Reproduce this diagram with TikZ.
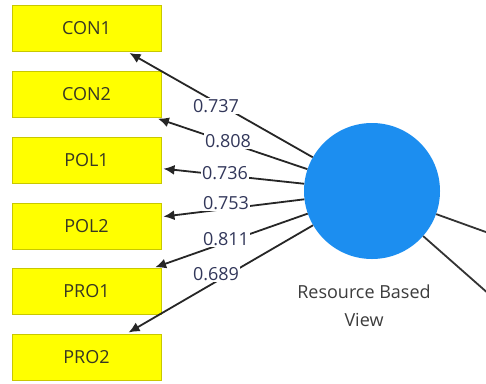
\documentclass[tikz,border=0pt]{standalone}
\usepackage{fontspec}
\setmainfont{Open Sans}
\usetikzlibrary{arrows.meta}
\definecolor{boxfill}{RGB}{255,255,0}
\definecolor{boxline}{RGB}{200,200,0}
\definecolor{boxtext}{RGB}{55,55,35}
\definecolor{numtext}{RGB}{50,55,90}
\definecolor{lvfill}{RGB}{28,142,240}
\definecolor{lvtext}{RGB}{60,60,60}
\tikzset{
  indbox/.style={draw=boxline, line width=1pt, fill=boxfill, minimum width=149pt, minimum height=46pt, inner sep=0pt, text=boxtext, font=\fontsize{18}{20}\selectfont},
  lv/.style={circle, fill=lvfill, minimum size=136pt, inner sep=0pt},
  load/.style={-{Latex[length=11pt,width=10pt]}, line width=1.8pt, draw=black!85, shorten >=2pt},
  path/.style={line width=1.8pt, draw=black!80},
  num/.style={fill=white, inner sep=1.5pt, text=numtext, font=\fontsize{18}{20}\selectfont},
}
\begin{document}
\begin{tikzpicture}[x=1pt,y=-1pt]
\fill[white] (0,0) rectangle (486,383);
\useasboundingbox (0,0) rectangle (486,383);
\clip (0,0) rectangle (486,383);
\node[indbox] (con1) at (86.5,28.5) {CON1};
\node[indbox] (con2) at (86.5,94.5) {CON2};
\node[indbox] (pol1) at (86.5,160.5) {POL1};
\node[indbox] (pol2) at (86.5,226) {POL2};
\node[indbox] (pro1) at (86.5,291.5) {PRO1};
\node[indbox] (pro2) at (86.5,357) {PRO2};
\node[lv] (rbv) at (372,191) {};
\node[align=center, text=lvtext, font=\fontsize{18}{28}\selectfont] (rbvlab) at (364,306) {Resource Based\\View};
\coordinate (e1) at (490,233.5);
\coordinate (e2) at (490,295);
\draw[path] (rbv) -- (e1);
\draw[path] (rbv) -- (e2);
\draw[load] (rbv) -- (con1);
\draw[load] (rbv) -- (con2);
\draw[load] (rbv) -- (pol1);
\draw[load] (rbv) -- (pol2);
\draw[load] (rbv) -- (pro1);
\draw[load] (rbv) -- (pro2);
\node[num] (l1) at (216,106) {0.737};
\node[num] (l2) at (228,141) {0.808};
\node[num] (l3) at (225,173) {0.736};
\node[num] (l4) at (226,203) {0.753};
\node[num] (l5) at (226,239) {0.811};
\node[num] (l6) at (216,274) {0.689};
\end{tikzpicture}
\end{document}
